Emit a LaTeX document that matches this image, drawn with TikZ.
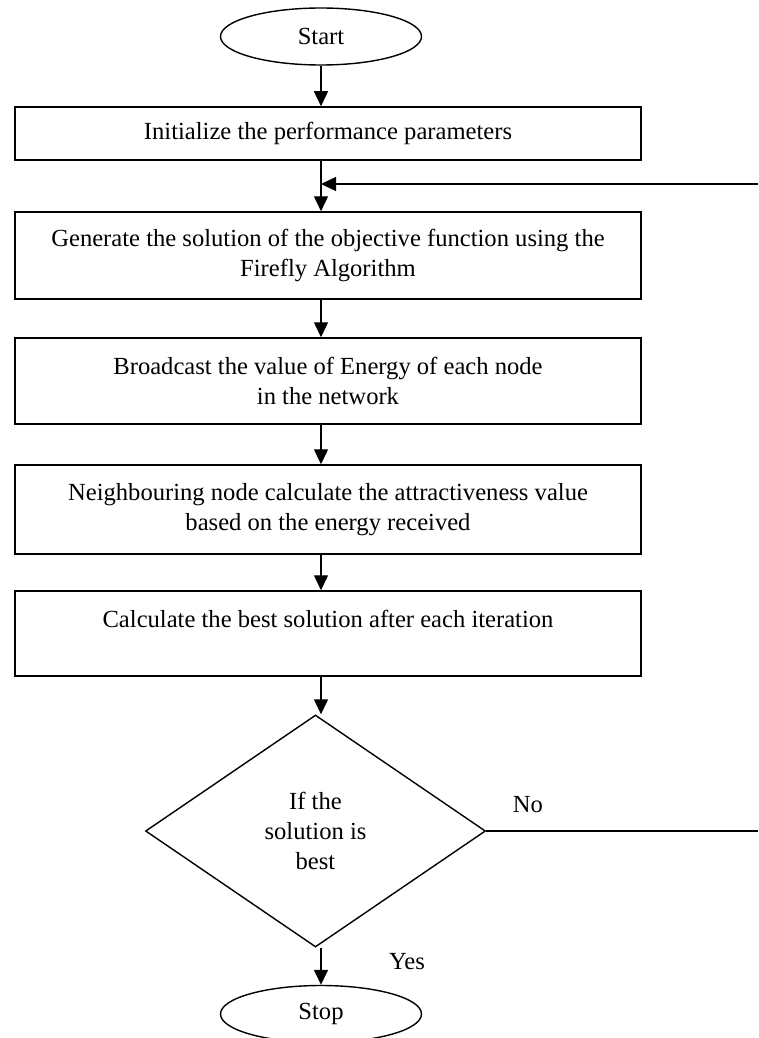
\documentclass[tikz,border=0pt]{standalone}
\usepackage{fontspec}
\setmainfont{Liberation Serif}
\usetikzlibrary{shapes.geometric,arrows.meta}
\tikzset{
  txt/.style={font=\fontsize{24.6}{30}\selectfont, align=center, inner sep=0pt},
  procbox/.style={txt, draw, rectangle, line width=1.5pt, minimum width=626pt},
  term/.style={txt, draw, ellipse, line width=1.4pt, minimum width=201pt, minimum height=57pt},
  decision/.style={txt, draw, diamond, line width=1.4pt, minimum width=340pt, minimum height=232pt},
  arr/.style={line width=1.4pt, -{Triangle[length=15pt,width=14pt]}},
  plain/.style={line width=1.4pt}
}
\begin{document}
\begin{tikzpicture}[x=1pt,y=-1pt]
\useasboundingbox[fill=white] (0,0) rectangle (758,1038);
\node[term] (start) at (321,36.5) {Start};
\node[procbox, minimum height=53pt] (b1) at (328,133.5) {Initialize the performance parameters};
\node[procbox, minimum height=87pt] (b2) at (328,255.5) {Generate the solution of the objective function using the\\Firefly Algorithm};
\node[procbox, minimum height=86pt] (b3) at (328,381) {Broadcast the value of Energy of each node\\in the network};
\node[procbox, minimum height=89pt] (b4) at (328,509.5) {Neighbouring node calculate the attractiveness value\\based on the energy received};
\node[procbox, minimum height=85pt] (b5) at (328,633.5) {Calculate the best solution after each iteration\\~};
\node[decision] (dia) at (315.5,831) {If the\\solution is\\best};
\node[term] (stop) at (321,1014) {Stop};
\node[txt] (no) at (528,805) {No};
\node[txt] (yes) at (407,962) {Yes};
\coordinate (join) at (321,184);
\coordinate (fbR) at (758,184);
\coordinate (noR) at (758,831);
\draw[arr] (start.south) -- (start.south |- b1.north);
\draw[arr] (b1.south -| start.south) -- (b2.north -| start.south);
\draw[arr] (fbR) -- (join);
\draw[arr] (b2.south -| start.south) -- (b3.north -| start.south);
\draw[arr] (b3.south -| start.south) -- (b4.north -| start.south);
\draw[arr] (b4.south -| start.south) -- (b5.north -| start.south);
\draw[arr] (b5.south -| start.south) -- (dia.north -| start.south);
\draw[arr] (dia.south -| start.south) -- (stop.north);
\draw[plain] (dia.east) -- (noR);
\end{tikzpicture}
\end{document}
